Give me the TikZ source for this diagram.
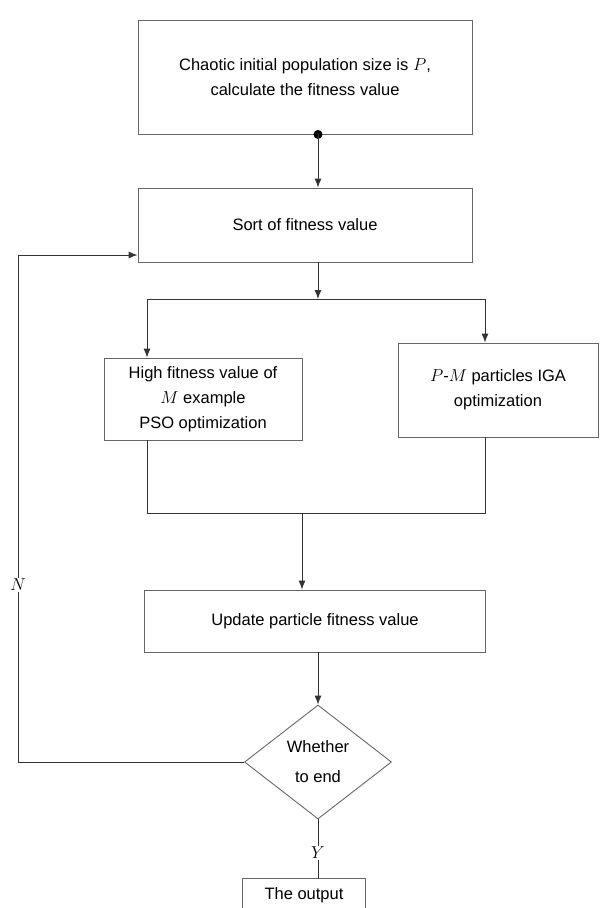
\documentclass[tikz,border=0pt]{standalone}
\usepackage{fontspec}
\setmainfont{Liberation Sans}
\usetikzlibrary{shapes.geometric,arrows.meta}

\begin{document}
\begin{tikzpicture}[x=1pt,y=-1pt,>={Latex[length=9pt,width=7pt]},
  box/.style={draw=black!60,line width=0.9pt,align=center,inner sep=2pt,
    font=\fontsize{16.5}{25}\selectfont},
  cond/.style={diamond,draw=black!60,line width=0.9pt,align=center,inner sep=0pt,
    aspect=1.29,minimum width=147pt,minimum height=114pt,
    font=\fontsize{16.5}{30}\selectfont},
  link/.style={draw=black!80,line width=0.9pt},
  lab/.style={fill=white,inner sep=1pt,font=\fontsize{19}{19}\selectfont}]
\useasboundingbox (0,0) rectangle (615,908);
\clip (0,0) rectangle (615,908);

% columns the connectors run along
\coordinate (mid) at (318,0);
\coordinate (pl) at (147,0);
\coordinate (pr) at (485,0);

\node[box,minimum width=334pt,minimum height=114pt] (init) at (305,77)
  {Chaotic initial population size is $P$,\\calculate the fitness value};
\node[box,minimum width=334pt,minimum height=74pt] (sort) at (305,225)
  {Sort of fitness value};
\node[box,minimum width=198pt,minimum height=82pt] (pso) at (203,399)
  {High fitness value of\\$M$ example\\PSO optimization};
\node[box,minimum width=200pt,minimum height=94pt] (iga) at (498,390)
  {$P$-$M$ particles IGA\\optimization};
\node[box,minimum width=341pt,minimum height=62pt] (update) at (315,621)
  {Update particle fitness value};
\node[cond] (stop) at (318,762) {Whether\\to end};
\node[box,minimum width=123pt,minimum height=34pt] (out) at (304,895)
  {The output};

\fill[black] (init.south -| mid) circle (4.5);
\draw[link,->] (init.south -| mid) -- (sort.north -| mid);

% split into the two swarms
\coordinate (split) at (318,299);
\draw[link,->] (sort.south -| mid) -- (split);
\draw[link,->] (split) -| (pso.north -| pl);
\draw[link,->] (split) -| (iga.north -| pr);

% merge again
\coordinate (join) at (302,513);
\draw[link] (pso.south -| pl) |- (join);
\draw[link] (iga.south -| pr) |- (join);
\draw[link,->] (join) -- (update.north -| join);
\draw[link,->] (update.south -| mid) -- (stop.north);

% loop back when not finished
\coordinate (back) at (18,255);
\draw[link,->] (stop.west) -| (back) -- (sort.west |- back);
\node[lab] (no) at (18,585) {$N$};

\draw[link] (stop.south) -- (out.north -| stop.south);
\node[lab] (yes) at (318,853) {$Y$};
\end{tikzpicture}
\end{document}
